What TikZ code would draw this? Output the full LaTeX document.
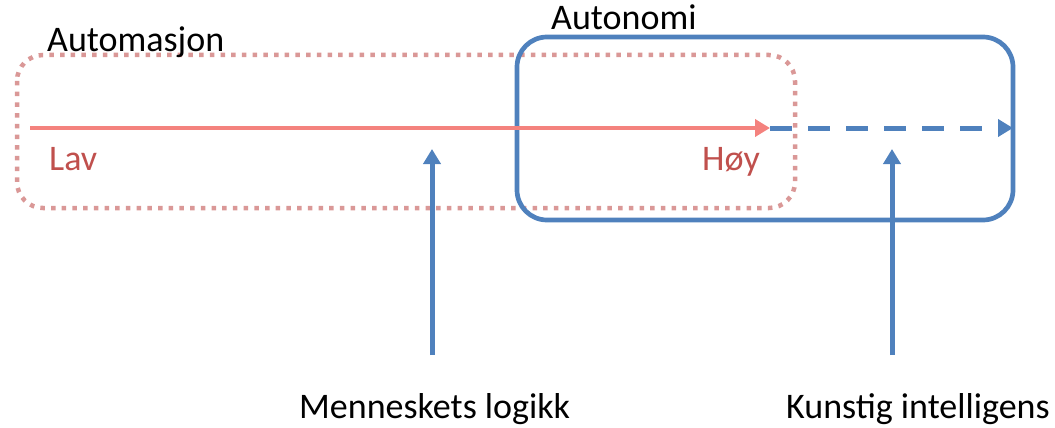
\documentclass[tikz,border=0pt]{standalone}
\usepackage{fontspec}
\setmainfont{Carlito}
\usetikzlibrary{arrows.meta}
\definecolor{pinkline}{HTML}{F4827E}
\definecolor{pinkdot}{HTML}{DA9897}
\definecolor{bluel}{HTML}{4F81BD}
\definecolor{redtxt}{HTML}{C0504D}
\begin{document}
\begin{tikzpicture}[x=1pt,y=-1pt,
  lbl/.style={font=\fontsize{36}{42}\selectfont, inner sep=0pt, anchor=base west},
  redlbl/.style={lbl, text=redtxt},
  dotbox/.style={draw=pinkdot, line width=4.5pt, dash pattern=on 4.5pt off 6.2pt, rounded corners=26pt},
  solidbox/.style={draw=bluel, line width=4.7pt, rounded corners=30pt},
  bluearrow/.style={draw=bluel, line width=5pt, -{Triangle[length=15pt,width=17pt]}},
  pinkarrow/.style={draw=pinkline, line width=4.5pt, -{Triangle[length=15pt,width=17pt]}},
  bluedash/.style={bluearrow, dash pattern=on 22pt off 16pt}]
\useasboundingbox (0,0) rectangle (1055,428);
\draw[dotbox] (17,55) rectangle (795,208);
\draw[solidbox] (517,37) rectangle (1013,220);
\coordinate (p0) at (30,128);
\coordinate (p1) at (770,128);
\coordinate (p2) at (1013,128);
\draw[pinkarrow] (p0) -- (p1);
\draw[bluedash] (p1) -- (p2);
\coordinate (m0) at (432,355);
\coordinate (m1) at (432,149);
\coordinate (k0) at (892,355);
\coordinate (k1) at (892,149);
\draw[bluearrow] (m0) -- (m1);
\draw[bluearrow] (k0) -- (k1);
\node[lbl] (automasjon) at (47,52) {Automasjon};
\node[lbl] (autonomi) at (551,30) {Autonomi};
\node[redlbl] (lav) at (49,170) {Lav};
\node[redlbl] (hoy) at (702,170) {Høy};
\node[lbl] (menn) at (299,418) {Menneskets logikk};
\node[lbl] (kunst) at (786,418) {Kunstig intelligens};
\end{tikzpicture}
\end{document}
